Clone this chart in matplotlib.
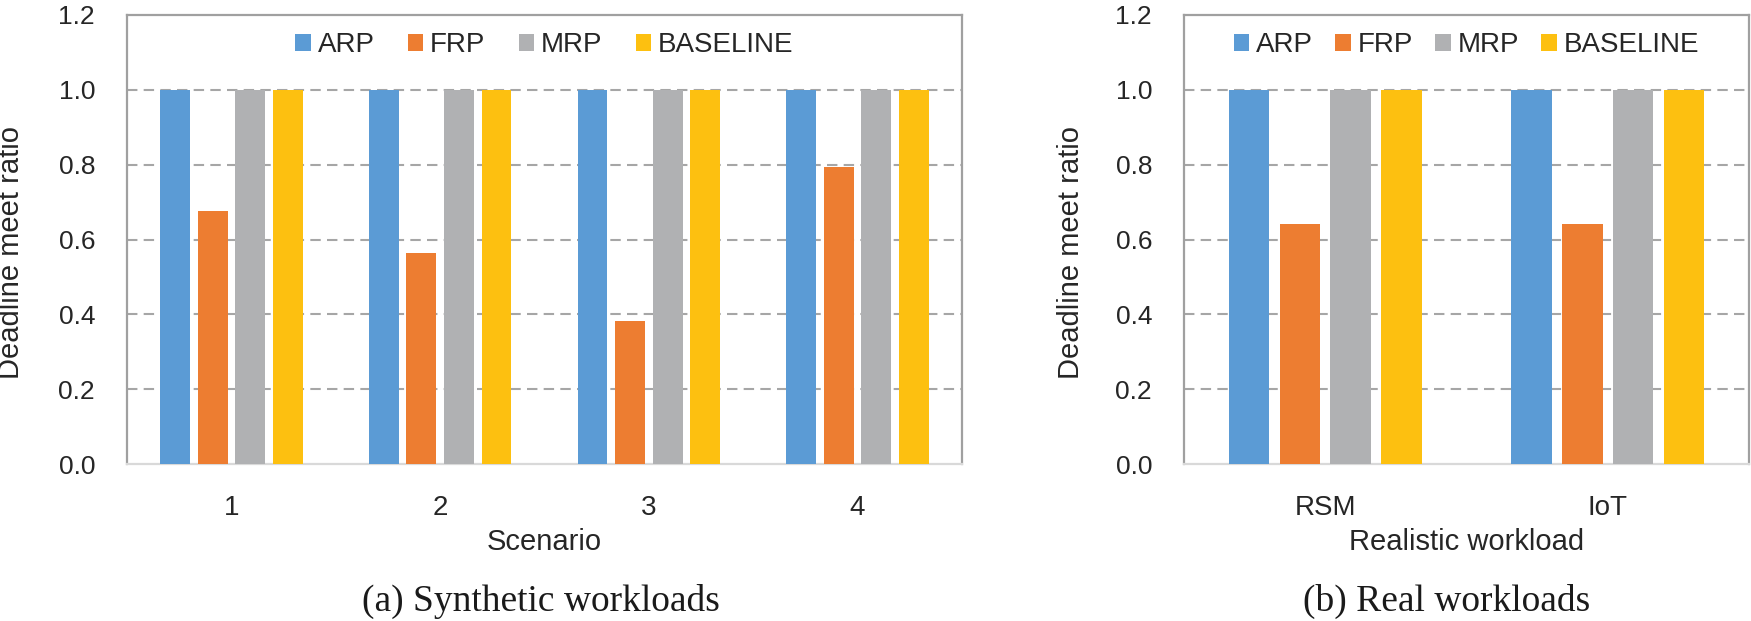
import matplotlib
matplotlib.use("Agg")
import matplotlib.pyplot as plt
import numpy as np

plt.rcParams['font.family'] = ['Liberation Sans', 'DejaVu Sans']

series = ['ARP', 'FRP', 'MRP', 'BASELINE']
colors = ['#5B9BD5', '#ED7D31', '#B0B1B3', '#FDC010']

# (a) synthetic workloads
scenarios = ['1', '2', '3', '4']
syn_arp = [1.0, 1.0, 1.0, 1.0]
syn_frp = [0.675, 0.563, 0.381, 0.793]
syn_mrp = [1.0, 1.0, 1.0, 1.0]
syn_base = [1.0, 1.0, 1.0, 1.0]

# (b) real workloads
workloads = ['RSM', 'IoT']
real_arp = [1.0, 1.0]
real_frp = [0.641, 0.641]
real_mrp = [1.0, 1.0]
real_base = [1.0, 1.0]

yticks = [0.0, 0.2, 0.4, 0.6, 0.8, 1.0, 1.2]

W, H = 1751, 621
fig = plt.figure(figsize=(W / 100, H / 100), dpi=100)

ax_a = fig.add_axes([127 / W, (H - 464) / H, 835 / W, 449 / H])
ax_b = fig.add_axes([1184 / W, (H - 464) / H, 565 / W, 449 / H])


def draw_panel(ax, cats, data, xlabel, ylabel_x, colspace):
    x = np.arange(len(cats))
    offsets = [-0.27, -0.09, 0.09, 0.27]
    for vals, off, col, name in zip(data, offsets, colors, series):
        ax.bar(x + off, vals, width=0.143, color=col, label=name, zorder=3)

    ax.set_xlim(-0.5, len(cats) - 0.5)
    ax.set_ylim(0, 1.2)
    ax.set_yticks(yticks)
    ax.set_yticklabels([f'{v:.1f}' for v in yticks])
    ax.set_xticks(x)
    ax.set_xticklabels(cats)
    ax.tick_params(axis='y', length=0, pad=23, labelsize=19, labelcolor='#262626')
    ax.tick_params(axis='x', length=0, pad=22, labelsize=20, labelcolor='#262626')

    # dashed horizontal grid, drawn below the bars
    for yv in yticks[1:-1]:
        ax.axhline(yv, color='#a6a6a6', lw=1.5, ls=(0, (5, 3)), zorder=1)

    for side in ['left', 'right', 'top']:
        ax.spines[side].set_color('#a0a0a0')
        ax.spines[side].set_linewidth(1.6)
    ax.spines['bottom'].set_color('#d9d9d9')
    ax.spines['bottom'].set_linewidth(1.6)

    ax.set_ylabel('Deadline meet ratio', fontsize=21, color='#262626')
    ax.yaxis.set_label_coords(ylabel_x, 0.47)
    ax.set_xlabel(xlabel, fontsize=21, color='#262626')
    ax.xaxis.set_label_coords(0.5, -0.174)
    ax.xaxis.label.set_va('center')

    ax.legend(loc='center', bbox_to_anchor=(0.5, 0.933), ncol=4, frameon=False,
              fontsize=20, handlelength=0.55, handleheight=0.55,
              handletextpad=0.25, columnspacing=colspace, labelcolor='#262626')


draw_panel(ax_a, scenarios, [syn_arp, syn_frp, syn_mrp, syn_base],
           'Scenario', -0.122, 1.2)
draw_panel(ax_b, workloads, [real_arp, real_frp, real_mrp, real_base],
           'Realistic workload', -0.176, 0.8)

fig.text(541 / W, 1 - 601 / H, '(a) Synthetic workloads', ha='center', va='center',
         fontsize=27, family='Liberation Serif', color='#1a1a1a')
fig.text(1447 / W, 1 - 601 / H, '(b) Real workloads', ha='center', va='center',
         fontsize=27, family='Liberation Serif', color='#1a1a1a')

fig.savefig('out.png', dpi=100)
